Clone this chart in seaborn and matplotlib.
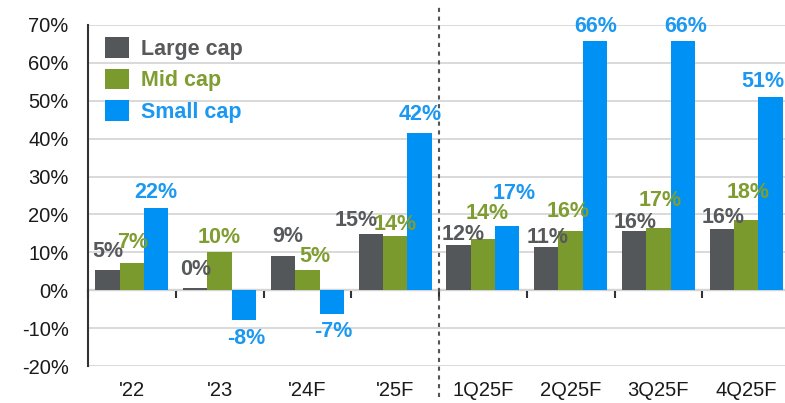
import matplotlib
matplotlib.use("Agg")
import matplotlib.pyplot as plt
import seaborn as sns
import pandas as pd

categories = ["'22", "'23", "'24F", "'25F", "1Q25F", "2Q25F", "3Q25F", "4Q25F"]
series = ["Large cap", "Mid cap", "Small cap"]
large_cap = [5.3, 0.5, 9.0, 14.8, 11.9, 11.3, 15.6, 16.1]
mid_cap = [7.2, 10.0, 5.3, 14.3, 13.6, 15.6, 16.4, 18.5]
small_cap = [21.8, -7.9, -6.4, 41.6, 17.0, 65.7, 65.7, 51.0]
large_labels = ["5%", "0%", "9%", "15%", "12%", "11%", "16%", "16%"]
mid_labels = ["7%", "10%", "5%", "14%", "14%", "16%", "17%", "18%"]
small_labels = ["22%", "-8%", "-7%", "42%", "17%", "66%", "66%", "51%"]
y_ticks = [-20, -10, 0, 10, 20, 30, 40, 50, 60, 70]

# label placement (pixels): horizontal nudge and gap between bar end and text
label_dx = [
    [0, 0, 5, -15, 5, 1, 1, 1],
    [1, 0, 8, 0, 4, -3, 2, 2],
    [0, 2, 2, 1, 7, 1, 3, -8],
]
label_gap = [
    [13, 13, 14, 8, 5, 4, 3, 6],
    [15, 9, 8, 6, 20, 14, 22, 22],
    [10, 12, 11, 13, 27, 9, 9, 10],
]

bar_colors = ["#54575a", "#7a9a2e", "#0091f5"]
text_colors = ["#58595b", "#7f9d30", "#1a98f2"]

df = pd.DataFrame({
    "period": categories * 3,
    "series": [s for s in series for _ in categories],
    "value": large_cap + mid_cap + small_cap,
})

sns.set_theme(style="white")
plt.rcParams["font.family"] = ["Liberation Sans", "DejaVu Sans"]

fig = plt.figure(figsize=(7.85, 4.03), dpi=100)
ax = fig.add_axes([88 / 785, 37 / 403, 697 / 785, 341 / 403])

sns.barplot(data=df, x="period", y="value", hue="series", order=categories,
            hue_order=series, palette=bar_colors, saturation=1, width=0.83,
            ax=ax, legend=True, edgecolor="none")

ax.set_ylim(-20, 70)
ax.set_xlim(-0.5, 7.5 - 5 / 87.75)
ax.set_yticks(y_ticks)
ax.set_yticklabels([f"{v}%" for v in y_ticks], fontsize=14.5, color="#1a1a1a")
ax.set_xticks(range(len(categories)))
ax.set_xticklabels(categories, fontsize=14.5, color="#1a1a1a")
ax.tick_params(axis="x", length=0, pad=11)
ax.tick_params(axis="y", length=0, pad=14)
ax.set_xlabel("")
ax.set_ylabel("")
ax.set_axisbelow(True)
ax.yaxis.grid(True, color="#d9d9d9", lw=1.4)
ax.xaxis.grid(False)
for side in ["top", "right", "bottom"]:
    ax.spines[side].set_visible(False)
ax.spines["left"].set_color("#333333")
ax.spines["left"].set_linewidth(1.5)

# zero axis with boundary ticks
sec = ax.secondary_xaxis(20 / 90)
sec.set_xticks([i - 0.5 for i in range(len(categories) + 1)])
sec.set_xticklabels([])
sec.tick_params(axis="x", direction="out", length=6, width=1.5, color="#333333")
sec.spines["bottom"].set_color("#333333")
sec.spines["bottom"].set_linewidth(1.5)

# separator between annual and quarterly
ax.axvline(3.5, ymin=-0.091, ymax=1.059, color="#555555", lw=1.5,
           linestyle=(0, (2, 2.2)), clip_on=False, zorder=5)

# value labels
px = 72 / 100
all_labels = [large_labels, mid_labels, small_labels]
for si, (cont, labels, tc) in enumerate(zip(ax.containers, all_labels, text_colors)):
    for ci, (rect, lab) in enumerate(zip(cont.patches, labels)):
        x = rect.get_x() + rect.get_width() / 2
        h = rect.get_height()
        y0 = rect.get_y()
        dx = label_dx[si][ci] * px
        gap = label_gap[si][ci]
        if not lab.startswith("-"):
            ax.annotate(lab, (x, max(y0, y0 + h)), xytext=(dx, gap * px),
                        textcoords="offset points", ha="center", va="baseline",
                        fontsize=15.5, fontweight="bold", color=tc, zorder=6)
        else:
            ax.annotate(lab, (x, min(y0, y0 + h)), xytext=(dx, -(gap - 4) * px),
                        textcoords="offset points", ha="center", va="top",
                        fontsize=15.5, fontweight="bold", color=tc, zorder=6)

leg = ax.legend(loc="upper left", bbox_to_anchor=(17 / 697, 1 - 12 / 341),
                frameon=False, handlelength=1.1, handleheight=1.1,
                labelspacing=0.42, handletextpad=0.55, borderpad=0, borderaxespad=0,
                prop={"weight": "bold", "size": 15.5})
for t, c in zip(leg.get_texts(), text_colors):
    t.set_color(c)

fig.savefig("out.png", dpi=100)
